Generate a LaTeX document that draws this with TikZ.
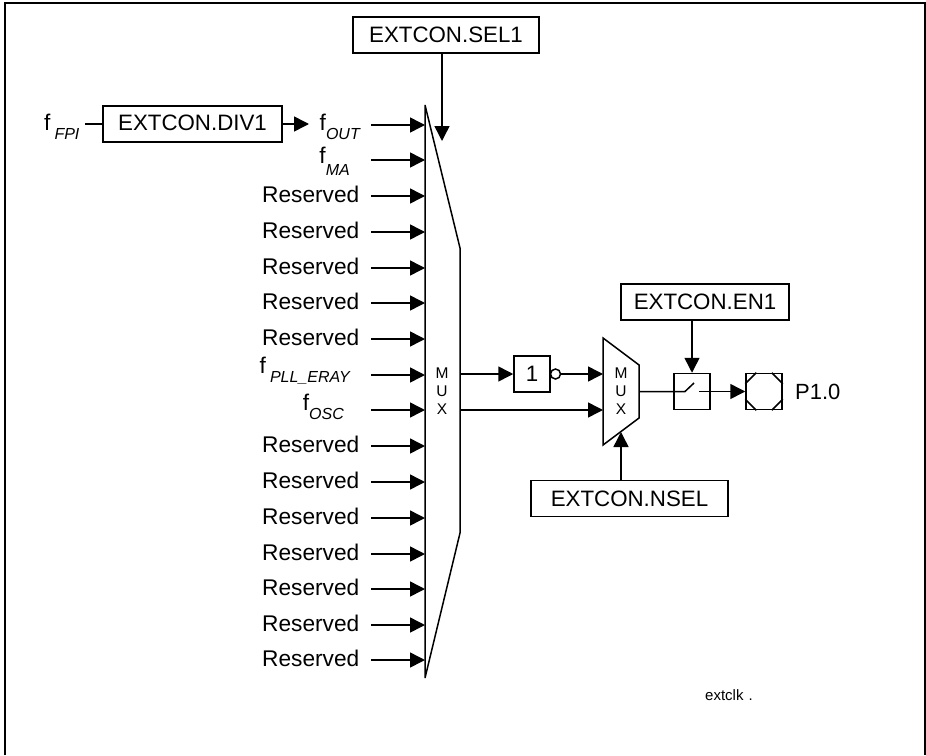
\documentclass[tikz,border=0pt]{standalone}
\usepackage{fontspec}
\setmainfont{Liberation Sans}
\usepackage{xcolor}
\usetikzlibrary{positioning,arrows.meta}
\tikzset{
  reg-box/.style={draw,line width=1.5pt,minimum height=36pt,inner sep=0pt,align=center,font=\fontsize{22.3}{25}\selectfont},
  pin-box/.style={draw,line width=1.5pt,minimum width=36pt,minimum height=36pt,inner sep=0pt},
  arrow/.style={-{Stealth[length=15pt,width=15pt,inset=0pt]},line width=1.5pt},
  line/.style={line width=1.5pt},
  lab/.style={anchor=east,inner sep=0pt,yshift=1.5pt,font=\fontsize{22.7}{25}\selectfont},
  mux-lab/.style={inner sep=0pt,align=center,font=\fontsize{15.5}{18}\selectfont},
}
\newcommand{\fsub}[3][0pt]{f\hspace{#1}\raisebox{-#2}{\fontsize{16}{16}\selectfont\itshape #3}}
\begin{document}
\begin{tikzpicture}[x=1pt,y=-1pt]
  \useasboundingbox (0,0) rectangle (926,755);
  \draw[line width=2pt] (5,755) -- (5,3) -- (925,3) -- (925,755);
  % big mux
  \coordinate (mA) at (425,105);
  \coordinate (mB) at (460,248);
  \coordinate (mC) at (460,533);
  \coordinate (mD) at (425,678);
  \draw[line,line join=bevel] (mA) -- (mB) -- (mC) -- (mD) -- cycle;
  \node[mux-lab] (muxA) at (442,391) {M\\U\\X};
  % inputs
  \foreach \n/\y in {c/196,d/232,e/268,f/303,g/339,j/446,k/482,l/518,m/554,n/589,o/625,p/660} {
    \node[lab] (in\n) at (359.5,\y) {Reserved};
    \coordinate (from\n) at (371,\y);
    \coordinate (to\n) at (425,\y);
    \draw[arrow] (from\n) -- (to\n);
  }
  \foreach \n/\y in {a/125,b/160,h/375,i/410} {
    \coordinate (from\n) at (371,\y);
    \coordinate (to\n) at (425,\y);
    \draw[arrow] (from\n) -- (to\n);
  }
  \node[lab] (ina) at (360,128) {\fsub{9pt}{OUT}};
  \node[lab] (inb) at (350,163) {\fsub{12pt}{MA}};
  \node[lab] (inh) at (350,372) {\fsub[4pt]{9pt}{PLL\_ERAY}};
  \node[lab] (ini) at (344,408) {\fsub{9pt}{OSC}};
  % divider
  \node[lab,anchor=west] (fpi) at (44,128) {\fsub[4pt]{9pt}{FPI}};
  \node[reg-box,minimum width=179pt,text height=17pt,text depth=5pt] (div) at (192.5,124) {EXTCON.DIV1};
  \coordinate (fpiend) at (85,124);
  \coordinate (fout) at (309,124);
  \draw[line] (fpiend) -- (div.west);
  \draw[arrow] (div.east) -- (fout);
  % selects
  \node[reg-box,minimum width=186pt] (sel) at (446,35) {EXTCON.SEL1};
  \coordinate (selend) at (442,141);
  \draw[arrow] (sel.south -| selend) -- (selend);
  \node[reg-box,minimum width=168pt] (en) at (705,302) {EXTCON.EN1};
  \node[reg-box,minimum width=197pt] (nsel) at (629.5,498.5) {EXTCON.NSEL};
  % small mux
  \coordinate (nA) at (603,338);
  \coordinate (nB) at (639,365);
  \coordinate (nC) at (639,418);
  \coordinate (nD) at (603,445);
  \draw[line] (nA) -- (nB) -- (nC) -- (nD) -- cycle;
  \node[mux-lab] (muxB) at (621,391) {M\\U\\X};
  \coordinate (nselend) at (621,432);
  \draw[arrow] (nsel.north -| nselend) -- (nselend);
  % inverter
  \node[pin-box] (inv) at (532,374) {\fontsize{22.3}{25}\selectfont 1};
  \node[draw,line width=1.5pt,circle,minimum size=10pt,inner sep=0pt] (bub) at (555.5,374) {};
  \coordinate (outA) at (460,374);
  \coordinate (outB) at (460,410);
  \coordinate (inA) at (603,374);
  \coordinate (inB) at (603,410);
  \draw[arrow] (outA) -- (inv.west);
  \draw[arrow] (bub.east) -- (inA);
  \draw[arrow] (outB) -- (inB);
  % switch and pad
  \node[pin-box] (sw) at (692,391.5) {};
  \node[pin-box] (pad) at (764,391.5) {};
  \coordinate (muxout) at (639,391.5);
  \coordinate (swa) at (685,391.5);
  \coordinate (swb) at (694,383);
  \coordinate (swc) at (699,391.5);
  \draw[line] (muxout) -- (swa) -- (swb);
  \draw[arrow] (swc) -- (pad.west);
  \draw[arrow] (en.south -| sw) -- (sw.north);
  \draw[line] ([yshift=-11pt]pad.north west) -- ([xshift=11pt]pad.north west);
  \draw[line] ([yshift=-11pt]pad.north east) -- ([xshift=-11pt]pad.north east);
  \draw[line] ([yshift=11pt]pad.south west) -- ([xshift=11pt]pad.south west);
  \draw[line] ([yshift=11pt]pad.south east) -- ([xshift=-11pt]pad.south east);
  \node[lab,anchor=west,yshift=-1.5pt,font=\fontsize{22}{25}\selectfont] (p10) at (795,391.5) {P1.0};
  \node[inner sep=0pt,anchor=west,font=\fontsize{15}{16}\selectfont] (ext) at (705,695) {extclk\hspace{5pt}.};
\end{tikzpicture}
\end{document}
